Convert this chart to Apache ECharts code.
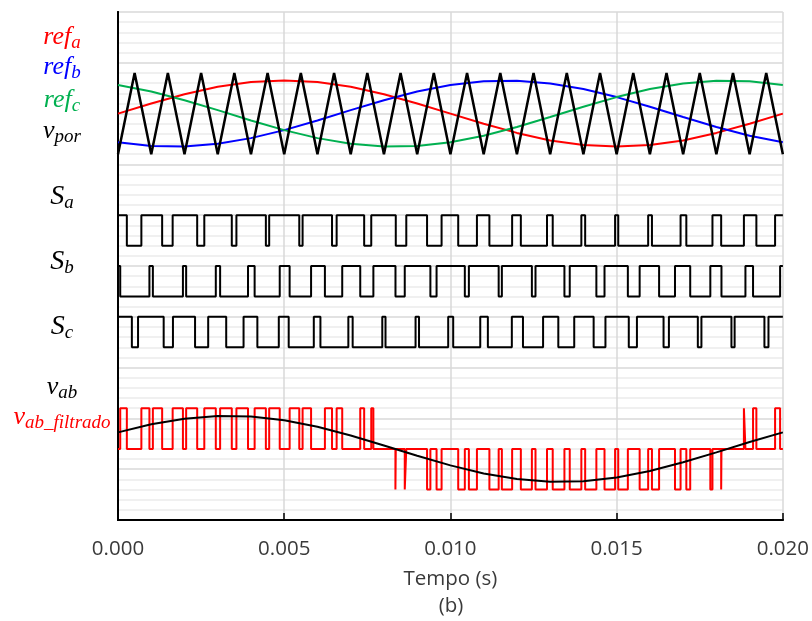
<!DOCTYPE html>
<html>
<head>
<meta charset="utf-8">
<script src="https://cdn.jsdelivr.net/npm/echarts@6/dist/echarts.min.js"></script>
<style>
  html, body { margin: 0; padding: 0; background: #ffffff; }
  #chart { width: 812px; height: 621px; }
</style>
</head>
<body>
<div id="chart"></div>
<script>
// Sample instants (ms) of the sinusoidal references and of the filtered line voltage
const sineTimesMs = [0, 1, 2, 3, 4, 5, 6, 7, 8, 9, 10, 11, 12, 13, 14, 15, 16, 17, 18, 19, 20];
const refA = [8.00, 8.20, 8.38, 8.53, 8.62, 8.65, 8.62, 8.53, 8.38, 8.20, 8.00, 7.80, 7.62, 7.47, 7.38, 7.35, 7.38, 7.47, 7.62, 7.80, 8.00];
const refB = [7.437, 7.364, 7.354, 7.406, 7.517, 7.675, 7.865, 8.068, 8.264, 8.435, 8.563, 8.636, 8.646, 8.594, 8.483, 8.325, 8.135, 7.932, 7.736, 7.565, 7.437];
const refC = [8.563, 8.435, 8.264, 8.068, 7.865, 7.675, 7.517, 7.406, 7.354, 7.364, 7.437, 7.565, 7.736, 7.932, 8.135, 8.325, 8.483, 8.594, 8.646, 8.636, 8.563];
const vabFiltered = [1.725, 1.883, 1.994, 2.046, 2.036, 1.963, 1.835, 1.664, 1.468, 1.265, 1.075, 0.917, 0.806, 0.754, 0.764, 0.837, 0.965, 1.136, 1.332, 1.535, 1.725];

// Triangular carrier (v_por) vertices
const carrierTimesMs = [0, 0.5, 1, 1.5, 2, 2.5, 3, 3.5, 4, 4.5, 5, 5.5, 6, 6.5, 7, 7.5, 8, 8.5, 9, 9.5, 10,
  10.5, 11, 11.5, 12, 12.5, 13, 13.5, 14, 14.5, 15, 15.5, 16, 16.5, 17, 17.5, 18, 18.5, 19, 19.5, 20];
const carrierValues = [7.2, 8.8, 7.2, 8.8, 7.2, 8.8, 7.2, 8.8, 7.2, 8.8, 7.2, 8.8, 7.2, 8.8, 7.2, 8.8, 7.2, 8.8, 7.2, 8.8, 7.2,
  8.8, 7.2, 8.8, 7.2, 8.8, 7.2, 8.8, 7.2, 8.8, 7.2, 8.8, 7.2, 8.8, 7.2, 8.8, 7.2, 8.8, 7.2, 8.8, 7.2];

// Switching instants (ms): each gate signal starts high and toggles at every instant
const saEdgesMs = [0.266, 0.703, 1.328, 1.644, 2.382, 2.596, 3.423, 3.562, 4.448, 4.548, 5.453, 5.553, 6.438, 6.577,
  7.405, 7.618, 8.356, 8.672, 9.297, 9.734, 10.234, 10.797, 11.172, 11.856, 12.118, 12.905, 13.077, 13.938,
  14.053, 14.953, 15.048, 15.948, 16.062, 16.923, 17.096, 17.882, 18.144, 18.828, 19.203, 19.766];
const sbEdgesMs = [0.067, 0.945, 1.049, 1.953, 2.050, 2.942, 3.072, 3.911, 4.110, 4.865, 5.163, 5.808, 6.224, 6.745,
  7.287, 7.682, 8.347, 8.626, 9.397, 9.583, 10.433, 10.555, 11.451, 11.547, 12.450, 12.559, 13.429, 13.589,
  14.390, 14.635, 15.337, 15.692, 16.277, 16.755, 17.213, 17.818, 18.153, 18.874, 19.103, 19.917];
const scEdgesMs = [0.417, 0.603, 1.374, 1.653, 2.318, 2.713, 3.255, 3.777, 4.192, 4.837, 5.135, 5.890, 6.089, 6.929,
  7.059, 7.950, 8.047, 8.951, 9.055, 9.933, 10.083, 10.897, 11.126, 11.847, 12.182, 12.787, 13.245, 13.724,
  14.308, 14.663, 15.365, 15.610, 16.411, 16.572, 17.442, 17.550, 18.453, 18.549, 19.445, 19.567];

// Plotted [low, high] values of each gate trace
const saLevels = [5.4, 6.0];
const sbLevels = [4.4, 5.0];
const scLevels = [3.4, 4.0];

// PWM line voltage v_ab: [instant (ms), state], state 1 / 0 / -1
const vabSteps = [[0, 0], [0.067, 1], [0.266, 0], [0.703, 1], [0.945, 0], [1.049, 1], [1.328, 0], [1.644, 1], [1.953, 0],
  [2.050, 1], [2.382, 0], [2.596, 1], [2.942, 0], [3.072, 1], [3.423, 0], [3.562, 1], [3.911, 0], [4.110, 1], [4.448, 0],
  [4.548, 1], [4.865, 0], [5.163, 1], [5.453, 0], [5.553, 1], [5.808, 0], [6.224, 1], [6.438, 0], [6.577, 1], [6.745, 0],
  [7.287, 1], [7.405, 0], [7.618, 1], [7.682, 0], [8.345, -1], [8.356, 0], [8.626, -1], [8.672, 0], [9.297, -1], [9.397, 0],
  [9.583, -1], [9.734, 0], [10.234, -1], [10.433, 0], [10.555, -1], [10.797, 0], [11.172, -1], [11.451, 0], [11.547, -1],
  [11.856, 0], [12.118, -1], [12.450, 0], [12.559, -1], [12.905, 0], [13.077, -1], [13.429, 0], [13.589, -1], [13.938, 0],
  [14.053, -1], [14.390, 0], [14.635, -1], [14.953, 0], [15.048, -1], [15.337, 0], [15.692, -1], [15.948, 0], [16.062, -1],
  [16.277, 0], [16.755, -1], [16.923, 0], [17.096, -1], [17.213, 0], [17.818, -1], [17.882, 0], [18.144, -1], [18.153, 0],
  [18.828, 1], [18.874, 0], [19.103, 1], [19.203, 0], [19.766, 1], [19.917, 0]];
const vabStateValues = { '1': 2.2, '0': 1.4, '-1': 0.6 };

const xTickLabels = ['0.000', '0.005', '0.010', '0.015', '0.020'];
const tEndS = 0.02;

const toPairs = (timesMs, values) => timesMs.map((t, i) => [t / 1000, values[i]]);

function gateData(edgesMs, levels) {
  let state = 1;
  const pts = [[0, levels[state]]];
  edgesMs.forEach(t => { state = 1 - state; pts.push([t / 1000, levels[state]]); });
  pts.push([tEndS, levels[state]]);
  return pts;
}

function vabData() {
  const pts = vabSteps.map(([t, s]) => [t / 1000, vabStateValues[String(s)]]);
  pts.push([tEndS, pts[pts.length - 1][1]]);
  return pts;
}

const serif = 'Liberation Serif';
const axisFont = 'Open Sans';
const textGrey = '#3a3a3a';

function sigLabel(main, sub, color, x, y, mainSize) {
  return {
    type: 'text', x: x, y: y, z: 100,
    style: {
      text: '{m|' + main + '}{s|' + sub + '}',
      align: 'center', verticalAlign: 'middle',
      rich: {
        m: { fontFamily: serif, fontStyle: 'italic', fontSize: mainSize, lineHeight: 30, verticalAlign: 'middle', fill: color, color: color },
        s: { fontFamily: serif, fontStyle: 'italic', fontSize: 19, lineHeight: 7, verticalAlign: 'bottom', fill: color, color: color }
      }
    }
  };
}

const lineSeries = (name, data, color, width, extra) => Object.assign({
  name: name, type: 'line', data: data, showSymbol: false, symbol: 'none',
  lineStyle: { color: color, width: width }, itemStyle: { color: color },
  animation: false, silent: true, clip: true
}, extra || {});

const chart = echarts.init(document.getElementById('chart'), null, { renderer: 'canvas' });
chart.setOption({
  animation: false,
  backgroundColor: '#ffffff',
  grid: { left: 118, right: 28, top: 12, bottom: 101 },
  xAxis: [
    {
      type: 'value', min: 0, max: 0.02, interval: 0.005, position: 'bottom',
      axisLine: { show: true, lineStyle: { color: '#000', width: 2 } },
      axisTick: { show: true, inside: true, length: 7, lineStyle: { color: '#000', width: 1.5 } },
      axisLabel: {
        margin: 19, color: textGrey, fontFamily: axisFont, fontSize: 20.5,
        formatter: v => xTickLabels[Math.round(v / 0.005)]
      },
      splitLine: { show: true, lineStyle: { color: '#d9d9d9', width: 1.5 } },
      name: 'Tempo (s)', nameLocation: 'middle', nameGap: 49,
      nameTextStyle: { color: textGrey, fontFamily: axisFont, fontSize: 20.5 }
    },
    {
      type: 'value', min: 0, max: 0.02, position: 'top',
      axisLine: { show: true, lineStyle: { color: '#000', width: 2 } },
      axisTick: { show: false }, axisLabel: { show: false }, splitLine: { show: false }
    }
  ],
  yAxis: [
    {
      type: 'value', min: 0, max: 10, interval: 1, position: 'left',
      axisLine: { show: true, lineStyle: { color: '#000', width: 2 } },
      axisTick: { show: false }, axisLabel: { show: false },
      splitLine: { show: true, lineStyle: { color: '#d9d9d9', width: 1.5 } },
      minorTick: { show: false, splitNumber: 5 },
      minorSplitLine: { show: true, lineStyle: { color: '#ebebeb', width: 1.5 } }
    },
    {
      type: 'value', min: 0, max: 10, position: 'right',
      axisLine: { show: true, lineStyle: { color: '#000', width: 2 } },
      axisTick: { show: false }, axisLabel: { show: false }, splitLine: { show: false }
    }
  ],
  series: [
    lineSeries('ref_a', toPairs(sineTimesMs, refA), '#ff0000', 2),
    lineSeries('ref_b', toPairs(sineTimesMs, refB), '#0000ff', 2),
    lineSeries('ref_c', toPairs(sineTimesMs, refC), '#00b050', 2),
    lineSeries('v_por', toPairs(carrierTimesMs, carrierValues), '#000000', 2.5),
    lineSeries('S_a', gateData(saEdgesMs, saLevels), '#000000', 2, { step: 'end' }),
    lineSeries('S_b', gateData(sbEdgesMs, sbLevels), '#000000', 2, { step: 'end' }),
    lineSeries('S_c', gateData(scEdgesMs, scLevels), '#000000', 2, { step: 'end' }),
    lineSeries('v_ab', vabData(), '#ff0000', 2, { step: 'end' }),
    lineSeries('v_ab_filtrado', toPairs(sineTimesMs, vabFiltered), '#000000', 2)
  ],
  graphic: [
    sigLabel('ref', 'a', '#ff0000', 62, 37, 26),
    sigLabel('ref', 'b', '#0000ff', 62, 67, 26),
    sigLabel('ref', 'c', '#00b050', 62, 100, 26),
    sigLabel('v', 'por', '#000000', 62, 131, 26),
    sigLabel('S', 'a', '#000000', 62, 197, 28),
    sigLabel('S', 'b', '#000000', 62, 262, 28),
    sigLabel('S', 'c', '#000000', 62, 327, 28),
    sigLabel('v', 'ab', '#000000', 62, 387, 26),
    sigLabel('v', 'ab_filtrado', '#ff0000', 62, 417, 26),
    {
      type: 'text', x: 451, y: 606, z: 100,
      style: { text: '(b)', align: 'center', verticalAlign: 'middle', fill: textGrey, fontFamily: axisFont, fontSize: 20.5 }
    }
  ]
});
</script>
</body>
</html>
